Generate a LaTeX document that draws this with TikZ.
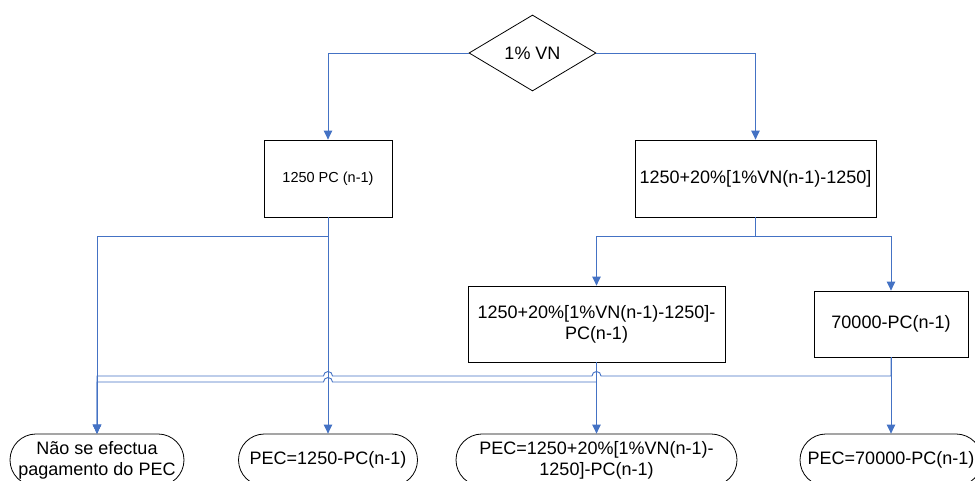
\documentclass[tikz,border=0pt]{standalone}
\usepackage{fontspec}
\setmainfont{Liberation Sans}
\usetikzlibrary{shapes.geometric,arrows.meta,calc}
\definecolor{linkblue}{RGB}{68,114,196}
\begin{document}
\begin{tikzpicture}[
        % 定義節點樣式:菱形 (判斷)
        x=1pt, y=1pt,
        decision/.style={
            diamond,
            draw=black,       % 黑色邊框
            line width=0.8pt,
            inner sep=0pt,
            minimum width=127pt,
            minimum height=76pt,
            font=\fontsize{18}{21}\selectfont
        },
        % 計算方塊
        process/.style={
            rectangle,
            draw=black,
            line width=0.8pt,
            align=center,
            inner sep=2pt,
            font=\fontsize{18}{21}\selectfont
        },
        % 結果節點 (圓角)
        terminal/.style={
            rectangle,
            rounded corners=26pt,
            draw=black,
            line width=0.8pt,
            align=center,
            inner sep=2pt,
            minimum height=52pt,
            font=\fontsize{18}{21}\selectfont
        },
        % 定義連線樣式
        flowedge/.style={
            draw=linkblue,
            line width=0.9pt,
            -{Triangle[width=8.5pt,length=9pt]}
        }
    ]
        \useasboundingbox (0,0) rectangle (975,481);

        % --- 1. 定義節點 ---
        \node[decision] (vn) at (532.5, 428) {1\% VN};

        % 第二層
        \node[process, minimum width=128pt, minimum height=77pt,
              font=\fontsize{14.5}{17}\selectfont] (pc) at (328, 302.5) {1250 PC (n-1)};
        \node[process, minimum width=241pt, minimum height=77pt] (vn20) at (755.5, 302.5) {1250+20\%[1\%VN(n-1)-1250]};

        % 第三層
        \node[process, minimum width=257pt, minimum height=76pt] (vn20pc) at (596.5, 157) {1250+20\%[1\%VN(n-1)-1250]-\\PC(n-1)};
        \node[process, minimum width=154pt, minimum height=66pt] (max) at (891, 157) {70000-PC(n-1)};

        % 結果
        \node[terminal, minimum width=174pt] (nopay) at (97, 21) {Não se efectua\\pagamento do PEC};
        \node[terminal, minimum width=179pt] (pec1) at (328, 21) {PEC=1250-PC(n-1)};
        \node[terminal, minimum width=281pt] (pec2) at (596.5, 21) {PEC=1250+20\%[1\%VN(n-1)-\\1250]-PC(n-1)};
        \node[terminal, minimum width=182pt] (pec3) at (891, 21) {PEC=70000-PC(n-1)};

        % 連線高度
        \coordinate (splitY) at (0, 245);
        \coordinate (hiY) at (0, 105);
        \coordinate (loY) at (0, 99);

        % --- 2. 上方分支 ---
        \draw[flowedge] (vn.west) -| (pc.north);
        \draw[flowedge] (vn.east) -| (vn20.north);

        % --- 3. 中間分支 ---
        \draw[flowedge] (vn20.south) -- (vn20.south |- splitY) -| (vn20pc.north);
        \draw[flowedge] (vn20.south) -- (vn20.south |- splitY) -| (max.north);
        \draw[flowedge] (pc.south) -- (pc.south |- splitY) -| (nopay.north);
        \draw[flowedge] (pc.south) -- (pec1.north);

        % --- 4. 下方連線 (跨線處加小弧) ---
        \draw[flowedge] (vn20pc.south) -- (pec2.north);
        \draw[flowedge] (max.south) -- (pec3.north);
        % max 連到 nopay (跨過兩條直線)
        \draw[flowedge] (max.south) -- (max.south |- hiY)
            -- ($(vn20pc.south |- hiY)+(4.5,0)$) arc[start angle=0, end angle=180, radius=4.5pt]
            -- ($(pc.south |- hiY)+(4.5,0)$) arc[start angle=0, end angle=180, radius=4.5pt]
            -| (nopay.north);
        % vn20pc 連到 nopay
        \draw[flowedge] (vn20pc.south) -- (vn20pc.south |- loY)
            -- ($(pc.south |- loY)+(4.5,0)$) arc[start angle=0, end angle=180, radius=4.5pt]
            -| (nopay.north);

    \end{tikzpicture}
\end{document}
